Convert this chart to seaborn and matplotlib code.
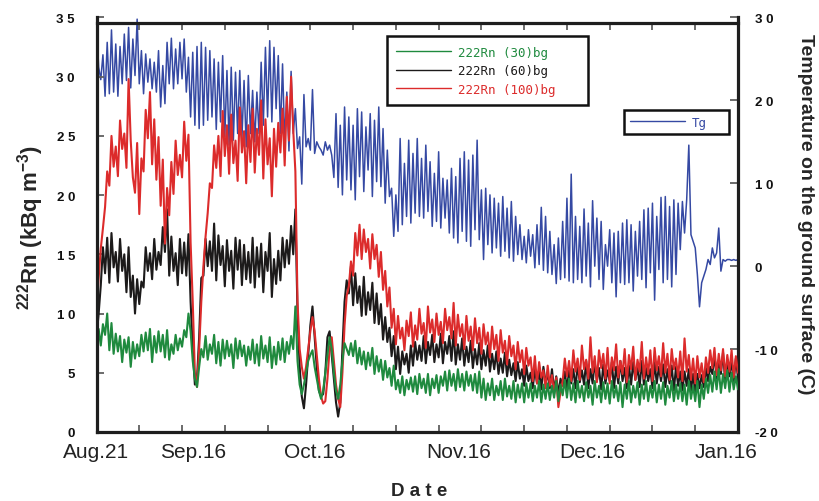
import numpy as np
import pandas as pd
import matplotlib
matplotlib.use("Agg")
import matplotlib.pyplot as plt
import seaborn as sns
from matplotlib.font_manager import FontProperties

# ---------------- data ----------------
# sampling every half day from Aug.21 (day 0) to day 150
n_points = 301
label_days = [0, 22.6, 51.0, 84.6, 116.0, 147.2]
date_labels = ["Aug.21", "Sep.16", "Oct.16", "Nov.16", "Dec.16", "Jan.16"]
minor_days = [10, 20, 30, 40, 50, 60, 70, 80, 90, 100, 110, 120, 130, 140]

left_ticks = [0, 5, 10, 15, 20, 25, 30, 35]
left_labels = ["0", "5", "1 0", "1 5", "2 0", "2 5", "3 0", "3 5"]
right_ticks = [-20, -10, 0, 10, 20, 30]
right_labels = ["-2 0", "-1 0", "0", "1 0", "2 0", "3 0"]

series_names = ["222Rn (30)bg", "222Rn (60)bg", "222Rn (100)bg"]
tg_name = "Tg"

tg = [
    29.5, 24.0, 22.5, 25.5, 20.5, 27.0, 20.8, 28.5, 21.0, 26.8, 20.5, 26.5, 22.0, 28.0, 22.4, 28.8, 21.5, 27.4, 23.0, 29.8,
    22.0, 26.0, 20.8, 25.6, 22.2, 25.0, 21.4, 24.6, 21.0, 26.0, 19.2, 24.2, 19.6, 27.0, 22.0, 27.5, 21.4, 26.2, 22.0, 27.0,
    22.6, 27.4, 21.0, 25.2, 18.0, 25.8, 17.0, 26.5, 16.6, 27.0, 17.0, 26.4, 17.6, 26.0, 18.0, 25.0, 16.5, 24.6, 17.4, 25.4,
    15.6, 23.6, 14.6, 24.0, 15.2, 23.4, 16.0, 23.6, 15.4, 22.4, 14.4, 23.0, 16.0, 21.2, 15.0, 21.0, 16.0, 24.6, 17.0, 26.4,
    18.0, 27.2, 17.4, 26.4, 19.0, 25.4, 16.0, 24.4, 15.0, 21.0, 13.9, 23.5, 16.0, 19.0, 14.2, 15.6, 9.9, 20.7, 14.4, 15.4,
    14.0, 21.3, 13.6, 15.0, 14.4, 14.0, 13.4, 15.0, 14.0, 14.6, 13.4, 10.7, 18.4, 9.5, 17.0, 8.6, 19.2, 10.4, 18.0, 9.2,
    17.0, 8.0, 19.0, 10.8, 18.6, 9.0, 16.8, 11.6, 18.4, 8.4, 17.6, 10.2, 19.2, 9.6, 16.6, 7.6, 14.0, 8.4, 9.4, 3.6,
    8.6, 4.2, 15.4, 5.0, 12.4, 6.0, 15.2, 5.2, 13.6, 6.4, 15.4, 6.0, 13.0, 5.8, 14.6, 6.6, 12.6, 4.8, 11.2, 5.4,
    13.8, 4.6, 10.6, 5.8, 10.4, 4.0, 11.8, 3.4, 10.8, 2.8, 13.0, 4.2, 13.8, 3.0, 12.8, 2.4, 13.4, 4.4, 15.2, 3.2,
    9.2, 0.8, 9.4, 2.6, 8.6, 1.6, 8.2, 2.2, 7.6, 1.2, 8.4, 1.8, 7.0, 1.0, 7.8, 0.6, 6.0, 1.4, 5.0, 0.8,
    3.6, 0.4, 4.4, 1.2, 3.8, -0.2, 5.0, 0.2, 7.1, -0.5, 6.0, -0.8, 4.2, -1.0, 2.6, -2.1, 3.4, -1.6, 5.4, -1.4,
    8.2, -1.8, 11.1, -2.0, 6.0, -1.6, 4.8, -2.0, 6.9, -1.2, 5.2, -2.5, 7.9, 0.0, 5.8, -1.6, 5.4, -2.8, 2.6, 0.0,
    4.4, -2.0, 4.0, -3.7, 4.2, -2.0, 5.2, -2.2, 5.6, -2.0, 5.0, -3.0, 4.2, -1.2, 5.4, -1.6, 6.8, -2.6, 7.0, -0.8,
    7.6, -4.1, 6.0, -0.4, 8.3, -2.0, 8.4, -1.6, 7.2, -2.5, 8.0, -1.0, 7.6, 2.0, 7.8, 4.0, 8.0, 14.6, 3.8, 3.0,
    2.2, -1.0, -4.9, -2.0, -1.2, -0.4, 0.8, 0.2, 2.2, 1.0, 1.6, 4.6, -0.6, 0.8, 0.6, 0.8, 0.8, 0.7, 0.8, 0.7,
    0.8,
]

rn100 = [
    10.5, 13.0, 15.5, 17.2, 19.0, 22.0, 20.8, 25.0, 22.4, 24.1, 21.6, 26.3, 23.9, 25.2, 22.3, 29.8, 24.6, 21.5, 20.2, 24.4,
    18.4, 23.1, 22.0, 27.2, 24.8, 28.7, 22.6, 26.4, 21.3, 24.9, 19.1, 23.0, 15.9, 20.6, 18.3, 22.8, 20.1, 24.6, 21.7, 23.4,
    21.5, 26.2, 22.9, 25.1, 16.0, 11.0, 5.0, 3.8, 7.0, 11.0, 14.0, 16.5, 18.5, 21.0, 20.6, 24.2, 22.3, 25.0, 21.6, 27.1,
    23.3, 25.9, 21.8, 26.8, 22.7, 24.6, 21.2, 27.4, 23.6, 25.4, 21.0, 25.9, 22.8, 27.3, 21.9, 25.6, 23.4, 28.0, 21.4, 26.4,
    22.6, 24.8, 19.9, 25.6, 22.4, 26.1, 23.6, 27.3, 22.5, 28.3, 24.6, 30.0, 25.5, 22.0, 11.0, 7.0, 5.5, 4.5, 5.5, 7.0,
    8.5, 9.7, 8.5, 6.5, 4.5, 3.0, 2.4, 2.6, 4.5, 7.0, 8.0, 6.0, 4.0, 2.8, 2.1, 5.0, 9.0, 11.5, 12.3, 14.4,
    13.2, 16.8, 14.9, 17.5, 14.6, 17.1, 15.2, 16.3, 13.8, 16.7, 14.6, 15.8, 13.1, 15.2, 12.0, 13.6, 10.6, 12.2, 8.8, 10.4,
    7.4, 9.8, 7.9, 8.8, 6.9, 9.4, 8.1, 10.1, 7.2, 9.0, 7.8, 10.4, 8.3, 9.2, 7.1, 10.6, 8.4, 9.5, 7.6, 10.0,
    8.2, 9.3, 7.5, 10.4, 8.6, 9.7, 7.9, 10.9, 7.3, 9.9, 8.1, 9.1, 7.0, 9.8, 7.7, 8.9, 6.9, 9.6, 7.5, 8.8,
    6.6, 9.1, 7.4, 8.4, 6.3, 8.9, 7.0, 8.2, 6.0, 8.6, 6.7, 7.7, 5.7, 8.1, 6.4, 7.3, 5.3, 7.6, 5.9, 6.9,
    4.9, 7.1, 5.6, 6.3, 4.3, 6.4, 4.1, 5.9, 4.6, 5.2, 3.7, 5.6, 3.9, 4.8, 3.2, 4.6, 2.1, 3.4, 4.3, 6.2,
    4.7, 6.0, 4.3, 6.9, 5.1, 6.2, 4.4, 7.3, 5.3, 6.1, 4.5, 8.0, 5.0, 6.4, 4.2, 6.9, 5.4, 6.6, 4.5, 7.1,
    4.1, 6.3, 5.2, 7.4, 4.6, 6.0, 4.9, 7.0, 4.2, 6.5, 5.3, 7.2, 4.4, 6.1, 5.1, 7.6, 4.5, 6.3, 4.9, 6.9,
    4.3, 7.1, 5.2, 6.4, 4.7, 7.5, 5.0, 6.6, 4.4, 7.0, 5.3, 6.2, 4.6, 6.8, 4.3, 7.9, 5.1, 6.5, 4.4, 6.2,
    4.1, 6.4, 4.6, 5.8, 4.2, 6.3, 5.0, 6.9, 5.4, 7.1, 4.8, 6.6, 5.2, 7.0, 4.7, 6.5, 5.1, 6.9, 4.6, 6.4,
    5.0,
]

rn60 = [
    8.0, 10.0, 12.4, 15.6, 13.4, 16.4, 12.6, 16.8, 13.9, 15.2, 12.7, 16.3, 13.6, 15.0, 11.8, 15.6, 11.4, 13.2, 10.0, 12.9,
    10.8, 12.7, 12.2, 15.6, 13.6, 15.1, 12.9, 16.3, 13.7, 15.2, 14.1, 17.3, 15.2, 18.8, 13.2, 16.5, 13.6, 15.1, 12.4, 16.3,
    13.4, 16.0, 13.2, 16.7, 11.0, 7.0, 4.0, 4.5, 8.0, 13.0, 13.2, 16.3, 14.0, 16.1, 13.6, 17.6, 12.8, 16.6, 14.1, 15.7,
    12.3, 16.2, 13.6, 15.3, 12.1, 16.4, 13.7, 16.2, 12.4, 15.8, 12.9, 15.2, 12.6, 16.4, 12.2, 15.6, 13.1, 15.9, 11.8, 15.2,
    13.6, 16.8, 11.4, 14.6, 12.5, 15.3, 12.8, 16.4, 13.9, 16.2, 14.2, 17.4, 15.0, 18.8, 10.0, 5.5, 3.0, 2.0, 4.0, 6.5,
    9.0, 10.6, 8.0, 5.5, 3.5, 3.0, 3.2, 5.0, 8.0, 8.5, 6.5, 4.5, 2.5, 1.3, 2.5, 7.0, 11.0, 12.8, 11.7, 14.0,
    10.7, 13.4, 10.9, 12.3, 9.8, 13.1, 9.9, 11.8, 10.3, 12.6, 9.2, 11.7, 9.1, 10.8, 7.8, 9.7, 7.6, 8.8, 6.4, 8.1,
    5.3, 7.2, 4.9, 6.8, 5.7, 6.6, 5.0, 7.3, 5.6, 7.6, 6.1, 7.3, 6.0, 8.1, 5.8, 7.6, 6.5, 8.2, 5.9, 7.4,
    6.3, 8.3, 5.8, 7.6, 6.6, 8.1, 6.0, 8.5, 5.7, 7.4, 6.1, 7.9, 5.6, 7.2, 5.9, 7.7, 5.4, 7.0, 5.7, 7.5,
    5.3, 6.9, 5.6, 7.3, 5.1, 6.6, 5.3, 6.8, 4.9, 6.2, 5.0, 6.7, 4.7, 6.1, 4.8, 5.8, 4.3, 5.9, 4.5, 5.3,
    3.9, 5.6, 4.3, 5.0, 3.7, 5.3, 4.1, 5.1, 3.6, 5.5, 4.2, 4.9, 3.7, 5.3, 3.5, 4.7, 3.2, 4.5, 3.9, 5.1,
    3.6, 5.2, 4.1, 5.3, 3.7, 5.7, 4.2, 5.2, 4.0, 6.0, 3.7, 5.3, 4.1, 5.9, 4.3, 5.4, 3.6, 5.7, 4.1, 5.2,
    4.3, 5.9, 3.7, 5.5, 4.1, 6.0, 4.3, 5.4, 3.7, 5.6, 4.0, 5.9, 4.4, 5.5, 3.8, 6.0, 4.0, 5.4, 4.3, 5.3,
    3.7, 5.9, 4.1, 5.5, 4.3, 5.7, 3.8, 5.3, 4.1, 5.6, 3.5, 5.5, 3.9, 5.1, 3.5, 5.1, 3.9, 5.3, 3.5, 4.9,
    3.3, 4.9, 3.7, 4.8, 3.8, 5.4, 4.3, 5.5, 4.9, 6.5, 4.5, 6.1, 4.9, 6.7, 4.3, 6.1, 4.7, 6.0, 4.3, 6.2,
    4.6,
]

rn30 = [
    7.0, 8.7, 7.3, 9.1, 8.2, 10.0, 6.9, 9.2, 6.6, 8.3, 6.8, 8.1, 5.9, 7.8, 6.7, 8.0, 5.5, 7.6, 6.2, 7.4,
    6.4, 8.2, 6.8, 8.4, 6.9, 8.7, 5.9, 8.1, 6.7, 8.5, 6.8, 8.2, 6.3, 8.6, 6.1, 7.4, 6.6, 8.2, 6.9, 7.9,
    7.2, 8.6, 8.0, 10.0, 8.5, 6.0, 4.5, 3.8, 5.5, 7.0, 6.3, 8.1, 6.1, 7.4, 6.6, 8.2, 5.8, 7.6, 5.6, 7.8,
    6.2, 7.7, 6.4, 7.4, 5.4, 7.9, 6.2, 7.7, 6.4, 7.3, 5.6, 7.2, 6.1, 7.8, 5.8, 7.4, 5.6, 8.1, 6.2, 7.3,
    5.9, 8.0, 5.4, 7.2, 5.7, 7.6, 6.1, 7.9, 5.9, 7.6, 6.6, 8.1, 7.0, 10.6, 6.0, 4.0, 3.2, 4.0, 5.0, 6.0,
    6.5, 6.9, 5.5, 4.5, 3.5, 2.8, 3.5, 5.0, 6.5, 8.0, 7.0, 5.0, 3.5, 2.8, 4.0, 6.0, 7.5, 7.0, 6.5, 7.5,
    6.4, 7.7, 5.8, 7.1, 5.7, 6.8, 5.3, 6.7, 5.6, 7.1, 4.9, 6.4, 5.1, 6.1, 4.4, 6.0, 4.6, 5.4, 3.9, 5.6,
    3.6, 4.4, 3.3, 4.7, 3.1, 4.4, 3.6, 4.6, 3.4, 4.7, 3.2, 4.9, 3.7, 4.5, 3.3, 4.9, 3.1, 4.5, 3.7, 4.8,
    3.3, 4.7, 3.9, 5.1, 3.5, 5.2, 3.9, 4.9, 3.5, 5.3, 3.8, 4.9, 3.5, 5.1, 3.9, 4.8, 3.5, 4.9, 3.3, 5.1,
    2.9, 4.5, 2.7, 4.1, 3.1, 4.5, 2.7, 3.9, 3.1, 4.3, 2.7, 4.5, 3.0, 3.9, 2.8, 4.3, 2.5, 4.0, 2.9, 4.1,
    2.5, 4.1, 2.9, 4.1, 2.6, 3.9, 2.9, 4.3, 2.5, 4.0, 2.8, 4.1, 2.7, 3.9, 2.9, 4.3, 2.6, 4.0, 3.1, 4.4,
    2.9, 4.5, 2.7, 4.1, 2.5, 4.3, 2.9, 3.9, 2.6, 4.2, 2.9, 3.9, 2.3, 4.3, 2.9, 3.9, 2.5, 4.2, 2.8, 4.1,
    2.4, 4.3, 2.9, 3.9, 2.6, 4.2, 2.1, 4.0, 2.8, 4.3, 2.5, 3.9, 2.9, 4.2, 2.3, 4.0, 2.8, 4.3, 2.6, 3.9,
    2.9, 4.3, 2.5, 4.0, 2.8, 4.2, 2.3, 3.9, 2.9, 4.3, 2.6, 4.0, 2.8, 4.1, 2.6, 4.0, 2.3, 4.3, 2.8, 3.9,
    2.6, 4.3, 2.1, 4.0, 2.8, 4.5, 3.3, 4.8, 3.4, 5.1, 3.6, 5.3, 3.3, 4.9, 3.7, 5.2, 3.4, 5.0, 3.6, 4.7,
    3.6,
]

# ---------------- styling ----------------
sns.set_style("white")
plt.rcParams["font.family"] = ["Liberation Sans", "DejaVu Sans"]
plt.rcParams["mathtext.fontset"] = "custom"
plt.rcParams["mathtext.rm"] = "Liberation Sans:bold"
plt.rcParams["mathtext.bf"] = "Liberation Sans:bold"
plt.rcParams["mathtext.default"] = "bf"

c_green = "#1f8a3e"
c_black = "#1c1a1a"
c_red = "#dc2b2b"
c_blue = "#3549a3"
spine_c = "#1e1e1e"
tick_c = "#606060"

days = np.arange(n_points) * 0.5
df = pd.DataFrame({"day": days, "rn30": rn30, "rn60": rn60, "rn100": rn100, "tg": tg})

fig = plt.figure(figsize=(8.2, 5.02), dpi=100)
ax = fig.add_axes([0.1177, 0.1375, 0.7823, 0.8257])
ax2 = ax.twinx()
ax.set_zorder(ax2.get_zorder() + 1)
ax.patch.set_visible(False)

sns.lineplot(data=df, x="day", y="tg", ax=ax2, color=c_blue, lw=1.1,
             estimator=None, sort=False, legend=False)
sns.lineplot(data=df, x="day", y="rn60", ax=ax, color=c_black, lw=1.5,
             estimator=None, sort=False, legend=False)
sns.lineplot(data=df, x="day", y="rn100", ax=ax, color=c_red, lw=1.5,
             estimator=None, sort=False, legend=False)
sns.lineplot(data=df, x="day", y="rn30", ax=ax, color=c_green, lw=1.5,
             estimator=None, sort=False, legend=False)

ax.set_xlim(0, 150)
ax.set_ylim(0, 35)
ax2.set_ylim(-20, 30)

# x axis
ax.set_xticks(label_days, date_labels, fontsize=15, color="#222222")
ax.set_xticks(minor_days, minor=True)
ax.tick_params(axis="x", which="major", length=0, pad=7.5)
ax.tick_params(axis="x", which="minor", direction="in", length=5, width=1.3,
               color=tick_c, bottom=True)

# left y axis
ax.set_yticks(left_ticks, left_labels, fontsize=9.5, fontweight="bold")
ax.tick_params(axis="y", direction="in", length=5, width=1.3, color=tick_c,
               left=True, pad=15.5, labelcolor="#111111")

# right y axis
ax2.set_yticks(right_ticks, right_labels, fontsize=9.5, fontweight="bold")
ax2.tick_params(axis="y", direction="in", length=6, width=1.3, color=tick_c,
                right=True, pad=12, labelcolor="#111111")

# spines
for s in ["left", "bottom"]:
    ax.spines[s].set_linewidth(2.3)
    ax.spines[s].set_color(spine_c)
for s in ["top", "right"]:
    ax.spines[s].set_visible(False)
for s in ["top", "left", "bottom"]:
    ax2.spines[s].set_visible(False)
ax2.spines["right"].set_linewidth(2.3)
ax2.spines["right"].set_color(spine_c)

# top frame line slightly below the axes top, with inward ticks
sec = ax.secondary_xaxis(0.9867)
sec.set_xticks(minor_days)
sec.tick_params(axis="x", direction="in", length=5, width=1.3, color=tick_c,
                labeltop=False, labelbottom=False, top=True, bottom=False)
for s in sec.spines.values():
    s.set_linewidth(2.3)
    s.set_color(spine_c)

# labels
ax.set_xlabel("D a t e", fontsize=13.5, fontweight="bold", va="center")
ax.xaxis.set_label_coords(0.503, -0.141)
ax.set_ylabel(r"$^{222}$Rn (kBq m$^{-3}$)", fontsize=16, fontweight="bold",
              va="center", ha="center")
ax.yaxis.set_label_coords(-0.103, 0.495)
ax2.set_ylabel("Temperature on the ground surface (C)", fontsize=14,
               fontweight="bold", rotation=270, va="center", ha="center")
ax2.yaxis.set_label_coords(1.1045, 0.528)

# legends (bbox = x0, y0 (bottom), width, height in axes fraction)
mono = FontProperties(family="DejaVu Sans Mono", size=9)
h30 = plt.Line2D([], [], color=c_green, lw=1)
h60 = plt.Line2D([], [], color=c_black, lw=1)
h100 = plt.Line2D([], [], color=c_red, lw=1)
leg1 = ax.legend([h30, h60, h100], series_names, loc="upper left",
                 bbox_to_anchor=(0.453, 0.795, 0.313, 0.16), mode="expand",
                 prop=mono, handlelength=4.4, handletextpad=0.55,
                 borderpad=0.75, labelspacing=0.45, frameon=True,
                 fancybox=False, framealpha=1, edgecolor="#111111",
                 borderaxespad=0)
leg1.get_frame().set_linewidth(1.8)
for t, c in zip(leg1.get_texts(), [c_green, c_black, c_red]):
    t.set_color(c)

htg = plt.Line2D([], [], color=c_blue, lw=1)
leg2 = ax2.legend([htg], [tg_name], loc="upper left",
                  bbox_to_anchor=(0.8223, 0.7068, 0.1637, 0.07), mode="expand",
                  prop=mono, handlelength=4.4, handletextpad=0.55,
                  borderpad=0.45, frameon=True, fancybox=False, framealpha=1,
                  edgecolor="#111111", borderaxespad=0)
leg2.get_frame().set_linewidth(1.8)
leg2.get_texts()[0].set_color(c_blue)

fig.savefig("out.png", dpi=100)
